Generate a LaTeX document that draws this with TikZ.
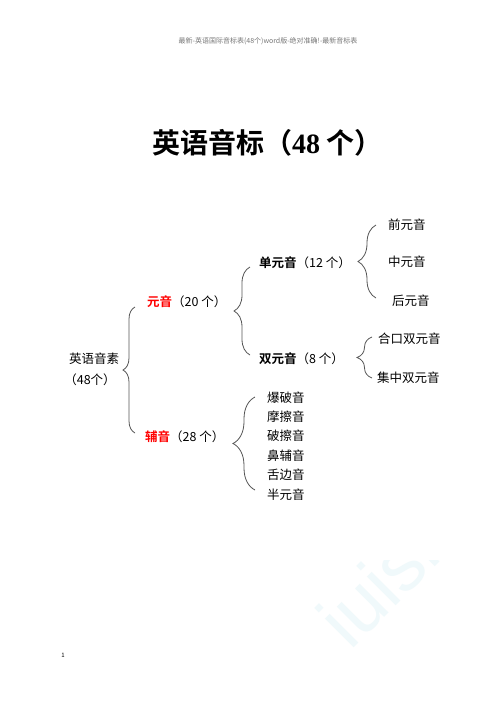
\documentclass[tikz,border=0pt]{standalone}
\usepackage{fontspec}
\setmainfont{Noto Sans CJK SC}[BoldFont={Noto Sans CJK SC Bold}]
\newfontfamily\titlenum{Liberation Serif}
\newfontfamily\wmfont{Liberation Sans}
\usetikzlibrary{decorations.pathreplacing}
\definecolor{bracegray}{RGB}{85,85,85}
\definecolor{wmcyan}{RGB}{240,249,251}
\definecolor{hdgray}{RGB}{120,120,120}

\begin{document}
\begin{tikzpicture}[x=1pt, y=-1pt,
    lbl/.style={anchor=west, inner sep=0pt, font=\fontsize{12.5}{14}\selectfont},
    brc/.style={draw=bracegray, line width=0.8pt, decorate, decoration={brace, amplitude=#1}},
    brc/.default=14]
    % page
    \fill[white] (0,0) rectangle (496,702);
    \useasboundingbox (0,0) rectangle (496,702);

    % watermark, cut at the top
    \begin{scope}
        \clip (0,560) rectangle (496,702);
        \node[wmcyan, anchor=base west, rotate=45, inner sep=0pt,
              font=\wmfont\fontsize{77}{80}\selectfont] (wm) at (350,652) {iuish};
    \end{scope}

    % header and page number
    \node[font=\fontsize{7}{8}\selectfont, text=hdgray] (hdr) at (268,41)
        {最新-英语国际音标表(48个)word版-绝对准确!-最新音标表};
    \node[font=\fontsize{6}{7}\selectfont] (pg) at (63,655) {1};

    % title
    \node[anchor=west, inner sep=0pt, font=\bfseries\fontsize{28}{30}\selectfont] (title) at (152,143)
        {英语音标（{\titlenum 48} 个）};

    % root
    \node[lbl, anchor=center] (root) at (94,359) {英语音素};
    \node[lbl, anchor=center] (rootnum) at (90,380) {（48个）};
    \draw[brc=12] (135,433) -- (135,307);

    % vowels and consonants
    \node[lbl] (vowel) at (147,302) {\textcolor{red}{\bfseries 元音}（20 个）};
    \node[lbl] (cons) at (145,437) {\textcolor{red}{\bfseries 辅音}（28 个）};
    \draw[brc=16] (250,355) -- (250,267);
    \draw[brc=22] (255,490) -- (255,397);

    % vowel kinds
    \node[lbl] (mono) at (259,263) {{\bfseries 单元音}（12 个）};
    \node[lbl] (diph) at (259,359) {{\bfseries 双元音}（8 个）};
    \draw[brc=18] (376,298) -- (376,225);
    \draw[brc=15] (372,378) -- (372,337);

    \node[lbl] (front) at (388,225) {前元音};
    \node[lbl] (central) at (388,262) {中元音};
    \node[lbl] (back) at (392,301) {后元音};
    \node[lbl] (closing) at (378,339) {合口双元音};
    \node[lbl] (centring) at (377,378) {集中双元音};

    % consonant kinds
    \node[lbl] (plosive) at (267,398) {爆破音};
    \node[lbl] (fricative) at (267,417) {摩擦音};
    \node[lbl] (affricate) at (267,436) {破擦音};
    \node[lbl] (nasal) at (267,456) {鼻辅音};
    \node[lbl] (lateral) at (267,475) {舌边音};
    \node[lbl] (semivowel) at (267,495) {半元音};
\end{tikzpicture}
\end{document}
